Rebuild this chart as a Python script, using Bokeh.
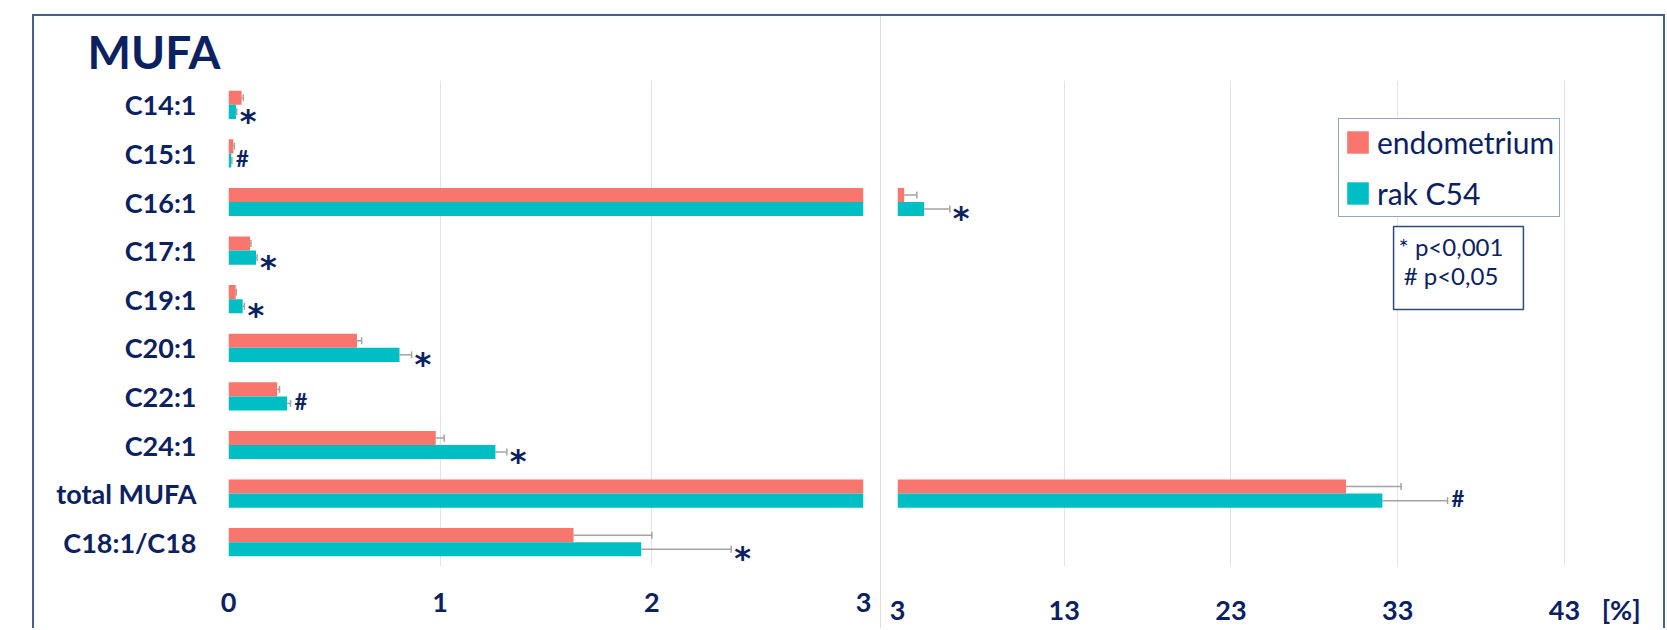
import numpy as np
from bokeh.plotting import figure
from bokeh.models import (ColumnDataSource, FactorRange, FixedTicker, Label,
                          Legend, LegendItem, Range1d)
from bokeh.transform import dodge
from bokeh.layouts import row
from bokeh.core.properties import value
from bokeh.embed import file_html
from bokeh.resources import INLINE

# ---------------- data ----------------
categories = ["C14:1", "C15:1", "C16:1", "C17:1", "C19:1", "C20:1",
              "C22:1", "C24:1", "total MUFA", "C18:1/C18"]
endometrium = [0.062, 0.023, 3.40, 0.102, 0.034, 0.607, 0.230, 0.979, 29.90, 1.630]
endometrium_sd = [0.008, 0.005, 0.76, 0.004, 0.003, 0.022, 0.011, 0.040, 3.30, 0.370]
rak_c54 = [0.035, 0.013, 4.60, 0.130, 0.067, 0.808, 0.277, 1.261, 32.08, 1.950]
rak_c54_sd = [0.004, 0.003, 1.54, 0.005, 0.008, 0.057, 0.016, 0.054, 3.91, 0.425]
significance = ["*", "#", "*", "*", "*", "*", "#", "*", "#", "*"]
series_names = ["endometrium", "rak C54"]
left_ticks = [0, 1, 2, 3]
right_ticks = [3, 13, 23, 33, 43]
axis_break = 3
unit_tick = 46.4
unit_label = "[%]"
title_text = "MUFA"
note_text = "* p<0,001\n# p<0,05"

# ---------------- style ----------------
NAVY = "#0c2160"
PINK = "#F8766D"
TEAL = "#00BFC4"
ERR = "#a3a3a3"
GRID = "#e3e3e3"
BOX = "#2e4a7a"
FRAME = "2px solid #41628c"
FONT = "Lato"

H = 612
W1, W2 = 846, 785
OFF = 0.145
BAR_H = 0.29

endo_hi = [v + s for v, s in zip(endometrium, endometrium_sd)]
rak_hi = [v + s for v, s in zip(rak_c54, rak_c54_sd)]


def subset(keep):
    idx = [i for i in range(len(categories)) if keep(i)]
    return ColumnDataSource(dict(
        cat=[categories[i] for i in idx],
        endo=[endometrium[i] for i in idx], endo_hi=[endo_hi[i] for i in idx],
        rak=[rak_c54[i] for i in idx], rak_hi=[rak_hi[i] for i in idx],
        sig=[significance[i] for i in idx]))


def make_fig(x_range, width, mbl, mbr, show_y, left_side, title=None):
    p = figure(width=width, height=H, x_range=x_range,
               y_range=FactorRange(factors=list(reversed(categories))),
               output_backend="svg", toolbar_location=None,
               min_border_left=mbl, min_border_right=mbr,
               min_border_top=64, min_border_bottom=61,
               y_axis_location="left" if show_y else None, title=title)
    p.outline_line_color = None
    p.background_fill_color = "white"
    p.border_fill_color = "white"
    p.xgrid.grid_line_color = GRID
    p.xgrid.grid_line_width = 1
    p.ygrid.visible = False
    ax = p.xaxis[0]
    ax.axis_line_color = None
    ax.major_tick_line_color = None
    ax.minor_tick_line_color = None
    ax.major_tick_out = 0
    ax.major_label_standoff = 26
    ax.major_label_text_font = FONT
    ax.major_label_text_font_style = "bold"
    ax.major_label_text_font_size = "27px"
    ax.major_label_text_color = NAVY
    if show_y:
        ay = p.yaxis[0]
        ay.axis_line_color = None
        ay.major_tick_line_color = None
        ay.major_tick_out = 0
        ay.major_label_standoff = 32
        ay.major_label_text_font = FONT
        ay.major_label_text_font_style = "bold"
        ay.major_label_text_font_size = "27px"
        ay.major_label_text_color = NAVY

    if left_side:
        bars_e = bars_r = subset(lambda i: True)
        err_e = subset(lambda i: endo_hi[i] < axis_break)
        err_r = subset(lambda i: rak_hi[i] < axis_break)
    else:
        bars_e = err_e = subset(lambda i: endometrium[i] > axis_break)
        bars_r = err_r = subset(lambda i: rak_c54[i] > axis_break)

    r1 = p.hbar(y=dodge("cat", OFF, range=p.y_range), left=0, right="endo",
                height=BAR_H, fill_color=PINK, line_color=None, source=bars_e)
    r2 = p.hbar(y=dodge("cat", -OFF, range=p.y_range), left=0, right="rak",
                height=BAR_H, fill_color=TEAL, line_color=None, source=bars_r)
    for lo, hi, off, s in (("endo", "endo_hi", OFF, err_e), ("rak", "rak_hi", -OFF, err_r)):
        yy = dodge("cat", off, range=p.y_range)
        p.segment(x0=lo, y0=yy, x1=hi, y1=yy, line_color=ERR, line_width=1.5, source=s)
        p.scatter(x=hi, y=yy, marker="dash", angle=np.pi / 2, size=7,
                  line_color=ERR, line_width=1.5, source=s)

    d = err_r.data
    star = ColumnDataSource({k: [v for v, g in zip(d[k], d["sig"]) if g == "*"] for k in d})
    hsh = ColumnDataSource({k: [v for v, g in zip(d[k], d["sig"]) if g == "#"] for k in d})
    p.text(x="rak_hi", y=dodge("cat", -OFF, range=p.y_range), text="sig", source=star,
           x_offset=3, y_offset=9, text_font=value("DejaVu Sans"),
           text_font_style="bold", text_font_size="32px", text_color=NAVY,
           text_align="left", text_baseline="alphabetic")
    p.text(x="rak_hi", y=dodge("cat", -OFF, range=p.y_range), text="sig", source=hsh,
           x_offset=4, y_offset=-2, text_font=value(FONT),
           text_font_style="bold", text_font_size="22px", text_color=NAVY,
           text_align="left", text_baseline="alphabetic")
    return p, r1, r2


# left panel (0..3)
p1, _, _ = make_fig(Range1d(0, axis_break), W1, 194, 17, True, True, title=title_text)
p1.xaxis[0].ticker = FixedTicker(ticks=left_ticks)
p1.xgrid[0].ticker = FixedTicker(ticks=left_ticks)
p1.title.align = "left"
p1.title.offset = -141
p1.title.standoff = 4
p1.title.text_font = FONT
p1.title.text_font_style = "bold"
p1.title.text_font_size = "46px"
p1.title.text_color = NAVY

# right panel (3..)
p2, r_endo, r_rak = make_fig(Range1d(axis_break, 47.5), W2, 16, 27, False, False)
p2.xaxis[0].ticker = FixedTicker(ticks=right_ticks + [unit_tick])
p2.xaxis[0].major_label_overrides = {unit_tick: unit_label}
p2.xgrid[0].ticker = FixedTicker(ticks=right_ticks)

legend = Legend(items=[LegendItem(label=series_names[0], renderers=[r_endo]),
                       LegendItem(label=series_names[1], renderers=[r_rak])],
                location=(441, 349))
legend.border_line_color = BOX
legend.border_line_width = 1.5
legend.background_fill_color = "white"
legend.background_fill_alpha = 1
legend.label_text_font = FONT
legend.label_text_font_size = "30px"
legend.label_text_color = NAVY
legend.glyph_width = 27
legend.glyph_height = 28
legend.label_standoff = 6
legend.padding = 5
legend.spacing = 15
legend.margin = 0
p2.add_layout(legend)

p2.add_layout(Label(x=561, y=340, x_units="screen", y_units="screen",
                    text=note_text, text_font=FONT, text_font_size="24px",
                    text_line_height=1.0,
                    text_color=NAVY, text_align="center", text_baseline="top",
                    border_line_color=BOX, border_line_width=1.5,
                    background_fill_color="white", padding=(5, 20, 5, 20)))

p1.styles = {"flex-shrink": "0", "min-width": f"{W1}px"}
p2.styles = {"border-left": "1px solid #dcdcdc", "border-right": FRAME,
             "flex-shrink": "0", "min-width": f"{W2}px"}

layout = row(p1, p2, margin=(14, 0, 0, 32),
             styles={"border-top": FRAME, "border-left": FRAME,
                     "min-width": f"{W1 + W2 + 2}px", "flex-shrink": "0"})

open("out.html", "w").write(file_html(layout, INLINE))
